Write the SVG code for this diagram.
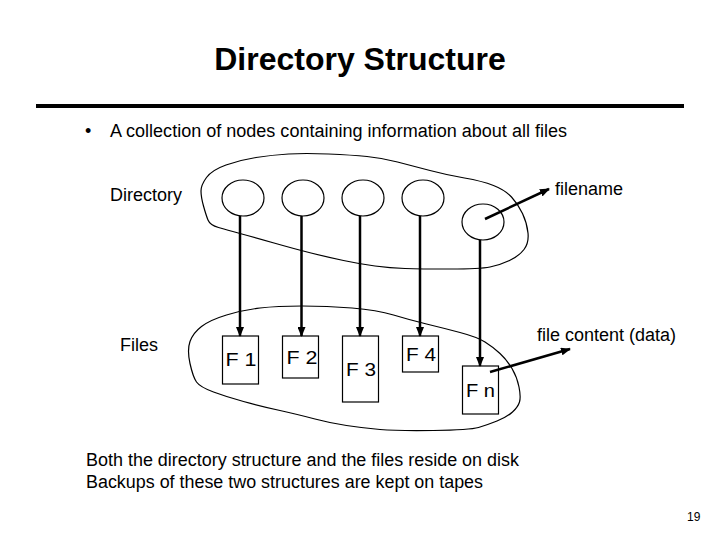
<svg xmlns="http://www.w3.org/2000/svg" width="720" height="540" viewBox="0 0 720 540">
<style>
text{font-family:"Liberation Sans",Arial,sans-serif;fill:#000}
.t{font-size:18px}
.blob{fill:none;stroke:#000;stroke-width:1.2}
.node{fill:#fff;stroke:#000;stroke-width:1.2}
.arr{stroke:#000;stroke-width:2.5;fill:none;marker-end:url(#ah)}
.box{font-size:19px;text-anchor:middle}
</style>
<defs>
<marker id="ah" markerUnits="userSpaceOnUse" markerWidth="10" markerHeight="8" refX="9" refY="4" orient="auto">
<path d="M0,0 L10,4 L0,8 z" fill="#000"/>
</marker>
</defs>
<rect width="720" height="540" fill="#fff"/>
<text x="360" y="70" font-size="32" font-weight="bold" text-anchor="middle">Directory Structure</text>
<rect x="36" y="104" width="648" height="4" fill="#000"/>
<text x="85" y="137" class="t">•</text>
<text x="110" y="137" class="t" textLength="457" lengthAdjust="spacingAndGlyphs">A collection of nodes containing information about all files</text>
<g id="directory-blob">
<path class="blob" d="M 201,191 Q 201,185 206.5,177.5 Q 212,170 226,165 Q 240,160 256,157.5 Q 272,155 288.5,154 Q 305,153 328.5,154 Q 352,155 367,156.5 Q 382,158 397.5,162 Q 413,166 430,170.5 Q 447,175 464.5,178 Q 482,181 493.5,185.5 Q 505,190 511.5,197 Q 518,204 522.5,213.5 Q 527,223 528,233 Q 529,243 524,249.5 Q 519,256 509.5,260.5 Q 500,265 490,267 Q 480,269 450,269 Q 420,269 405,268.5 Q 390,268 375,266 Q 360,264 343.5,260.5 Q 327,257 311,253 Q 295,249 274,243 Q 253,237 240,233.5 Q 227,230 218.5,227.5 Q 210,225 208,220 Q 206,215 203.5,206 Q 201,197 201,191 Z"/>
<text x="110" y="201" class="t">Directory</text>
</g>
<g id="files-blob">
<path class="blob" d="M 190,363.5 Q 187,350 190,341.5 Q 193,333 201.5,326.5 Q 210,320 226.5,315 Q 243,310 260,308 Q 277,306 302,306 Q 327,306 352,308 Q 377,310 393.5,315 Q 410,320 426.5,324 Q 443,328 460,332.5 Q 477,337 485,342 Q 493,347 500,353.5 Q 507,360 512,368.5 Q 517,377 519,387 Q 521,397 519.5,402 Q 518,407 512.5,412 Q 507,417 497,421 Q 487,425 478.5,427.5 Q 470,430 433.5,430.5 Q 397,431 380,429.5 Q 363,428 346.5,425.5 Q 330,423 315,419 Q 300,415 280,410.5 Q 260,406 243.5,401.5 Q 227,397 213.5,392 Q 200,387 196.5,382 Q 193,377 190,363.5 Z"/>
<text x="120" y="351" class="t">Files</text>
</g>
<g id="dir-node-1"><ellipse class="node" cx="243" cy="198" rx="21" ry="18"/></g>
<g id="dir-node-2"><ellipse class="node" cx="303" cy="198" rx="21" ry="18"/></g>
<g id="dir-node-3"><ellipse class="node" cx="363" cy="198" rx="21" ry="18"/></g>
<g id="dir-node-4"><ellipse class="node" cx="423" cy="198" rx="21" ry="18"/></g>
<g id="dir-node-5"><ellipse class="node" cx="483" cy="222" rx="21" ry="18"/></g>
<g id="file-F1"><rect class="node" x="222.5" y="336" width="36" height="48"/><text x="241" y="366" class="box" textLength="31" lengthAdjust="spacingAndGlyphs">F 1</text></g>
<g id="file-F2"><rect class="node" x="282.5" y="336" width="36" height="42"/><text x="302" y="364" class="box" textLength="31" lengthAdjust="spacingAndGlyphs">F 2</text></g>
<g id="file-F3"><rect class="node" x="342.5" y="336" width="36" height="66"/><text x="361" y="376" class="box" textLength="30" lengthAdjust="spacingAndGlyphs">F 3</text></g>
<g id="file-F4"><rect class="node" x="402.5" y="336" width="36" height="36"/><text x="421" y="361" class="box" textLength="30" lengthAdjust="spacingAndGlyphs">F 4</text></g>
<g id="file-Fn"><rect class="node" x="462.5" y="366" width="36" height="48"/><text x="480.5" y="397" class="box" textLength="29" lengthAdjust="spacingAndGlyphs">F n</text></g>
<g id="connectors">
<line class="arr" x1="240" y1="216" x2="240" y2="336"/>
<line class="arr" x1="301.5" y1="216" x2="301.5" y2="336"/>
<line class="arr" x1="360" y1="216" x2="360" y2="336"/>
<line class="arr" x1="420" y1="216" x2="420" y2="336"/>
<line class="arr" x1="480" y1="240" x2="480" y2="366"/>
<line class="arr" x1="485" y1="219" x2="549" y2="189"/>
<line class="arr" x1="490" y1="372" x2="570" y2="349"/>
</g>
<text x="555" y="195" class="t">filename</text>
<text x="537" y="341" class="t">file content (data)</text>
<text x="86" y="466" class="t" textLength="433" lengthAdjust="spacingAndGlyphs">Both the directory structure and the files reside on disk</text>
<text x="86" y="488" class="t" textLength="397" lengthAdjust="spacingAndGlyphs">Backups of these two structures are kept on tapes</text>
<text x="687" y="521" font-size="12">19</text>
</svg>
